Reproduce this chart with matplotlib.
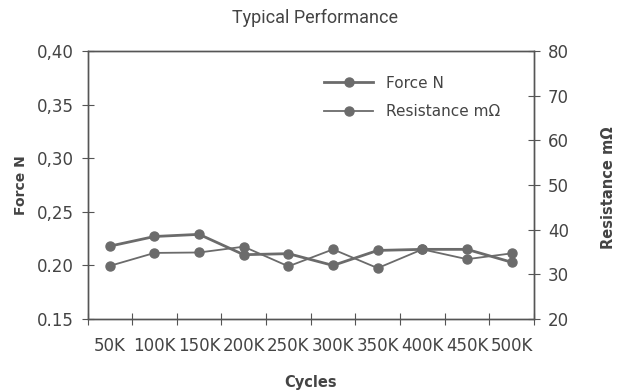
import matplotlib
matplotlib.use("Agg")
import matplotlib.pyplot as plt
import numpy as np

# Values
cycles = ["50K", "100K", "150K", "200K", "250K", "300K", "350K", "400K", "450K", "500K"]
force_n = [0.218, 0.227, 0.229, 0.210, 0.211, 0.200, 0.214, 0.215, 0.215, 0.203]
resistance_mohm = [31.9, 34.8, 34.9, 36.2, 31.8, 35.6, 31.4, 35.6, 33.4, 34.7]
force_ticks = [0.15, 0.20, 0.25, 0.30, 0.35, 0.40]
force_ticklabels = ["0.15", "0.20", "0,25", "0,30", "0,35", "0,40"]
res_ticks = [20, 30, 40, 50, 60, 70, 80]

grey = "#6b6b6b"
axis_grey = "#555555"
text_grey = "#444444"

fig = plt.figure(figsize=(6.18, 3.90), dpi=100)
ax = fig.add_axes([0.1416, 0.182, 0.7224, 0.687])
ax2 = ax.twinx()

x = np.arange(len(cycles)) + 0.5

l1, = ax.plot(x, force_n, color=grey, lw=2.0, marker="o", ms=6.5, label="Force N")
l2, = ax2.plot(x, resistance_mohm, color=grey, lw=1.3, marker="o", ms=6.5, label="Resistance m\u03a9")

ax.set_xlim(0, len(cycles))
ax.set_ylim(0.15, 0.40)
ax2.set_ylim(20, 80)

ax.set_xticks(np.arange(len(cycles) + 1))
ax.set_xticklabels([])
ax.set_xticks(x, minor=True)
ax.set_xticklabels(cycles, minor=True, fontsize=12, color=text_grey)
ax.tick_params(axis="x", which="minor", length=0, pad=13)
ax.tick_params(axis="x", which="major", direction="inout", length=8, color=axis_grey)

ax.set_yticks(force_ticks)
ax.set_yticklabels(force_ticklabels, fontsize=12, color=text_grey)
ax.tick_params(axis="y", direction="inout", length=8, color=axis_grey, pad=6)

ax2.set_yticks(res_ticks)
ax2.set_yticklabels([str(v) for v in res_ticks], fontsize=12, color=text_grey)
ax2.tick_params(axis="y", direction="inout", length=8, color=axis_grey, pad=6)

for a in (ax, ax2):
    for s in a.spines.values():
        s.set_color(axis_grey)
        s.set_linewidth(1.0)

ax.set_xlabel("Cycles", fontsize=10.5, fontweight="bold", color=text_grey, labelpad=14)
ax.set_ylabel("Force N", fontsize=10, fontweight="bold", color=text_grey, labelpad=6)
fig.text(0.985, 0.52, "Resistance m\u03a9", rotation=90, fontsize=10.5, fontweight="bold",
         color=text_grey, ha="center", va="center")

fig.text(0.51, 0.953, "Typical Performance", fontsize=13, color=text_grey,
         ha="center", va="center", family="Roboto")

leg = ax.legend(handles=[l1, l2], loc="upper left", bbox_to_anchor=(0.5, 0.96),
                frameon=False, fontsize=11, handlelength=3.2, labelspacing=0.9,
                handletextpad=0.8, labelcolor=text_grey)

fig.savefig("out.png", dpi=100)
